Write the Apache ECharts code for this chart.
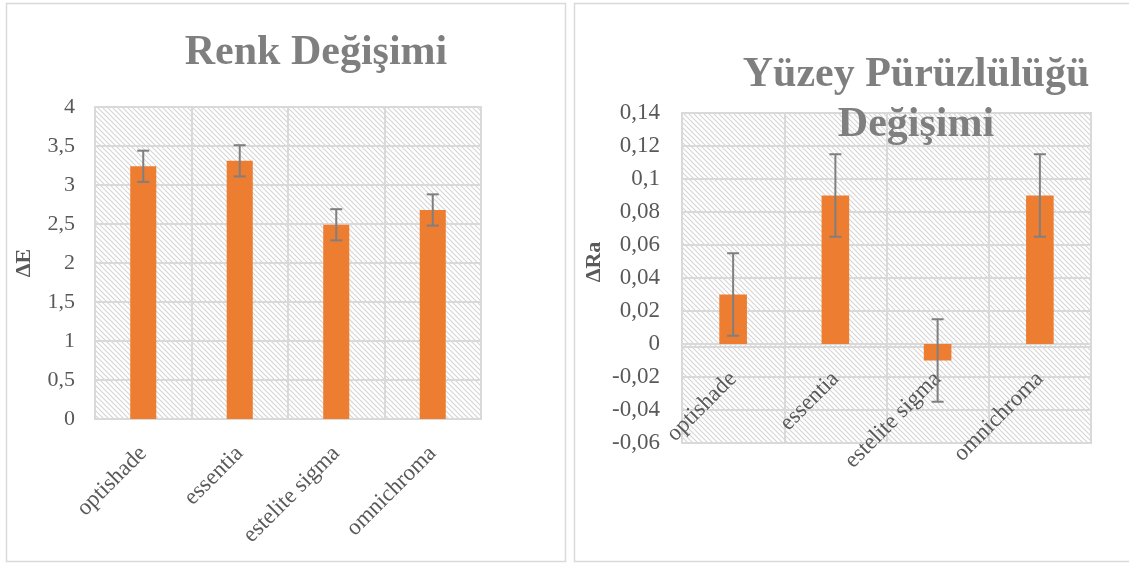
<!DOCTYPE html>
<html>
<head>
<meta charset="utf-8">
<script src="https://cdn.jsdelivr.net/npm/echarts@6/dist/echarts.min.js"></script>
<style>
html,body{margin:0;padding:0;background:#fff;}
#c{width:1129px;height:563px;}
</style>
</head>
<body>
<div id="c"></div>
<script>
// ---- data ----
var categories = ['optishade', 'essentia', 'estelite sigma', 'omnichroma'];
var deltaE = [3.24, 3.31, 2.49, 2.68];
var deltaEErr = [0.2, 0.2, 0.2, 0.2];
var deltaRa = [0.03, 0.09, -0.01, 0.09];
var deltaRaErr = [0.025, 0.025, 0.025, 0.025];
var titleLeft = 'Renk Değişimi';
var titleRight = 'Yüzey Pürüzlülüğü\nDeğişimi';
var nameLeft = 'ΔE';
var nameRight = 'ΔRa';

// ---- styles ----
var FONT = '"Liberation Serif", "Times New Roman", serif';
var GRID_C = '#d9d9d9';
var TXT_C = '#595959';
var TITLE_C = '#7f7f7f';
var BAR_C = '#ED7D31';
var ERR_C = '#7f7f7f';

function makePattern() {
  var s = 5;
  var cv = document.createElement('canvas');
  cv.width = s; cv.height = s;
  var ctx = cv.getContext('2d');
  ctx.fillStyle = '#ffffff';
  ctx.fillRect(0, 0, s, s);
  ctx.strokeStyle = '#d4d4d4';
  ctx.lineWidth = 1.1;
  ctx.beginPath();
  ctx.moveTo(-1, -1); ctx.lineTo(s + 1, s + 1);
  ctx.moveTo(-1 - s, -1); ctx.lineTo(1, s + 1);
  ctx.moveTo(s - 1, -1); ctx.lineTo(2 * s + 1, s + 1);
  ctx.stroke();
  return { image: cv, repeat: 'repeat' };
}
var pattern = makePattern();

function fmt(v) {
  var n = Number(v.toFixed(4));
  return String(n).replace('.', ',');
}

function errData(vals, errs) {
  return vals.map(function (v, i) { return [i, v - errs[i], v + errs[i]]; });
}

function errRender(params, api) {
  var x = api.value(0);
  var lo = api.coord([x, api.value(1)]);
  var hi = api.coord([x, api.value(2)]);
  var hw = 6;
  var st = { stroke: ERR_C, lineWidth: 2 };
  return {
    type: 'group',
    children: [
      { type: 'line', shape: { x1: lo[0], y1: lo[1], x2: hi[0], y2: hi[1] }, style: st },
      { type: 'line', shape: { x1: lo[0] - hw, y1: lo[1], x2: lo[0] + hw, y2: lo[1] }, style: st },
      { type: 'line', shape: { x1: hi[0] - hw, y1: hi[1], x2: hi[0] + hw, y2: hi[1] }, style: st }
    ]
  };
}

function xAxisCfg(idx, margin) {
  return {
    type: 'category', gridIndex: idx, data: categories, offset: 0,
    axisLine: { show: true, onZero: false, lineStyle: { color: GRID_C, width: 2 } },
    axisTick: { show: false },
    splitLine: { show: true, lineStyle: { color: GRID_C, width: 2 } },
    axisLabel: { rotate: 45, margin: margin, color: TXT_C, fontFamily: FONT, fontSize: 23, interval: 0 }
  };
}

var chart = echarts.init(document.getElementById('c'), null, { renderer: 'canvas' });
var option = {
  animation: false,
  backgroundColor: '#ffffff',
  title: [
    { text: titleLeft, left: 311, top: 27, textAlign: 'center',
      textStyle: { fontFamily: FONT, fontSize: 42, fontWeight: 'bold', color: TITLE_C } },
    { text: titleRight, left: 911, top: 45, textAlign: 'center',
      textStyle: { fontFamily: FONT, fontSize: 42, fontWeight: 'bold', color: TITLE_C, lineHeight: 50 } }
  ],
  graphic: [
    { type: 'rect', shape: { x: 6.5, y: 3.5, width: 559, height: 558 }, style: { fill: 'none', stroke: GRID_C, lineWidth: 1.5 }, z: -1 },
    { type: 'rect', shape: { x: 574.5, y: 3.5, width: 570, height: 558 }, style: { fill: 'none', stroke: GRID_C, lineWidth: 1.5 }, z: -1 }
  ],
  grid: [
    { left: 95, top: 107, width: 386, height: 312, show: true, backgroundColor: pattern, borderColor: GRID_C, borderWidth: 2 },
    { left: 682, top: 113, width: 409, height: 330, show: true, backgroundColor: pattern, borderColor: GRID_C, borderWidth: 2 }
  ],
  xAxis: [xAxisCfg(0, 31), xAxisCfg(1, 29)],
  yAxis: [
    { type: 'value', gridIndex: 0, min: 0, max: 4, interval: 0.5,
      name: nameLeft, nameLocation: 'middle', nameGap: 60,
      nameTextStyle: { fontFamily: FONT, fontSize: 22, fontWeight: 'bold', color: TXT_C },
      axisLine: { show: false }, axisTick: { show: false },
      splitLine: { show: true, lineStyle: { color: GRID_C, width: 2 } },
      axisLabel: { formatter: fmt, color: TXT_C, fontFamily: FONT, fontSize: 22, margin: 20 } },
    { type: 'value', gridIndex: 1, min: -0.06, max: 0.14, interval: 0.02,
      name: nameRight, nameLocation: 'middle', nameGap: 77,
      nameTextStyle: { fontFamily: FONT, fontSize: 22, fontWeight: 'bold', color: TXT_C, padding: [0, 0, 0, 32] },
      axisLine: { show: false }, axisTick: { show: false },
      splitLine: { show: true, lineStyle: { color: GRID_C, width: 2 } },
      axisLabel: { formatter: fmt, color: TXT_C, fontFamily: FONT, fontSize: 23, margin: 22 } }
  ],
  series: [
    { type: 'bar', xAxisIndex: 0, yAxisIndex: 0, data: deltaE, barWidth: '27%', itemStyle: { color: BAR_C } },
    { type: 'custom', xAxisIndex: 0, yAxisIndex: 0, data: errData(deltaE, deltaEErr), renderItem: errRender, z: 5 },
    { type: 'bar', xAxisIndex: 1, yAxisIndex: 1, data: deltaRa, barWidth: '27%', itemStyle: { color: BAR_C } },
    { type: 'custom', xAxisIndex: 1, yAxisIndex: 1, data: errData(deltaRa, deltaRaErr), renderItem: errRender, z: 5 }
  ]
};
chart.setOption(option);

// Place the right chart's category axis on its zero line, using the library's own scale.
var yMinRight = chart.getModel().getComponent('yAxis', 1).axis.scale.getExtent()[0];
var zeroPx = chart.convertToPixel({ yAxisIndex: 1 }, 0);
var bottomPx = chart.convertToPixel({ yAxisIndex: 1 }, yMinRight);
chart.setOption({ xAxis: [{}, { offset: -(bottomPx - zeroPx) }] });
</script>
</body>
</html>
